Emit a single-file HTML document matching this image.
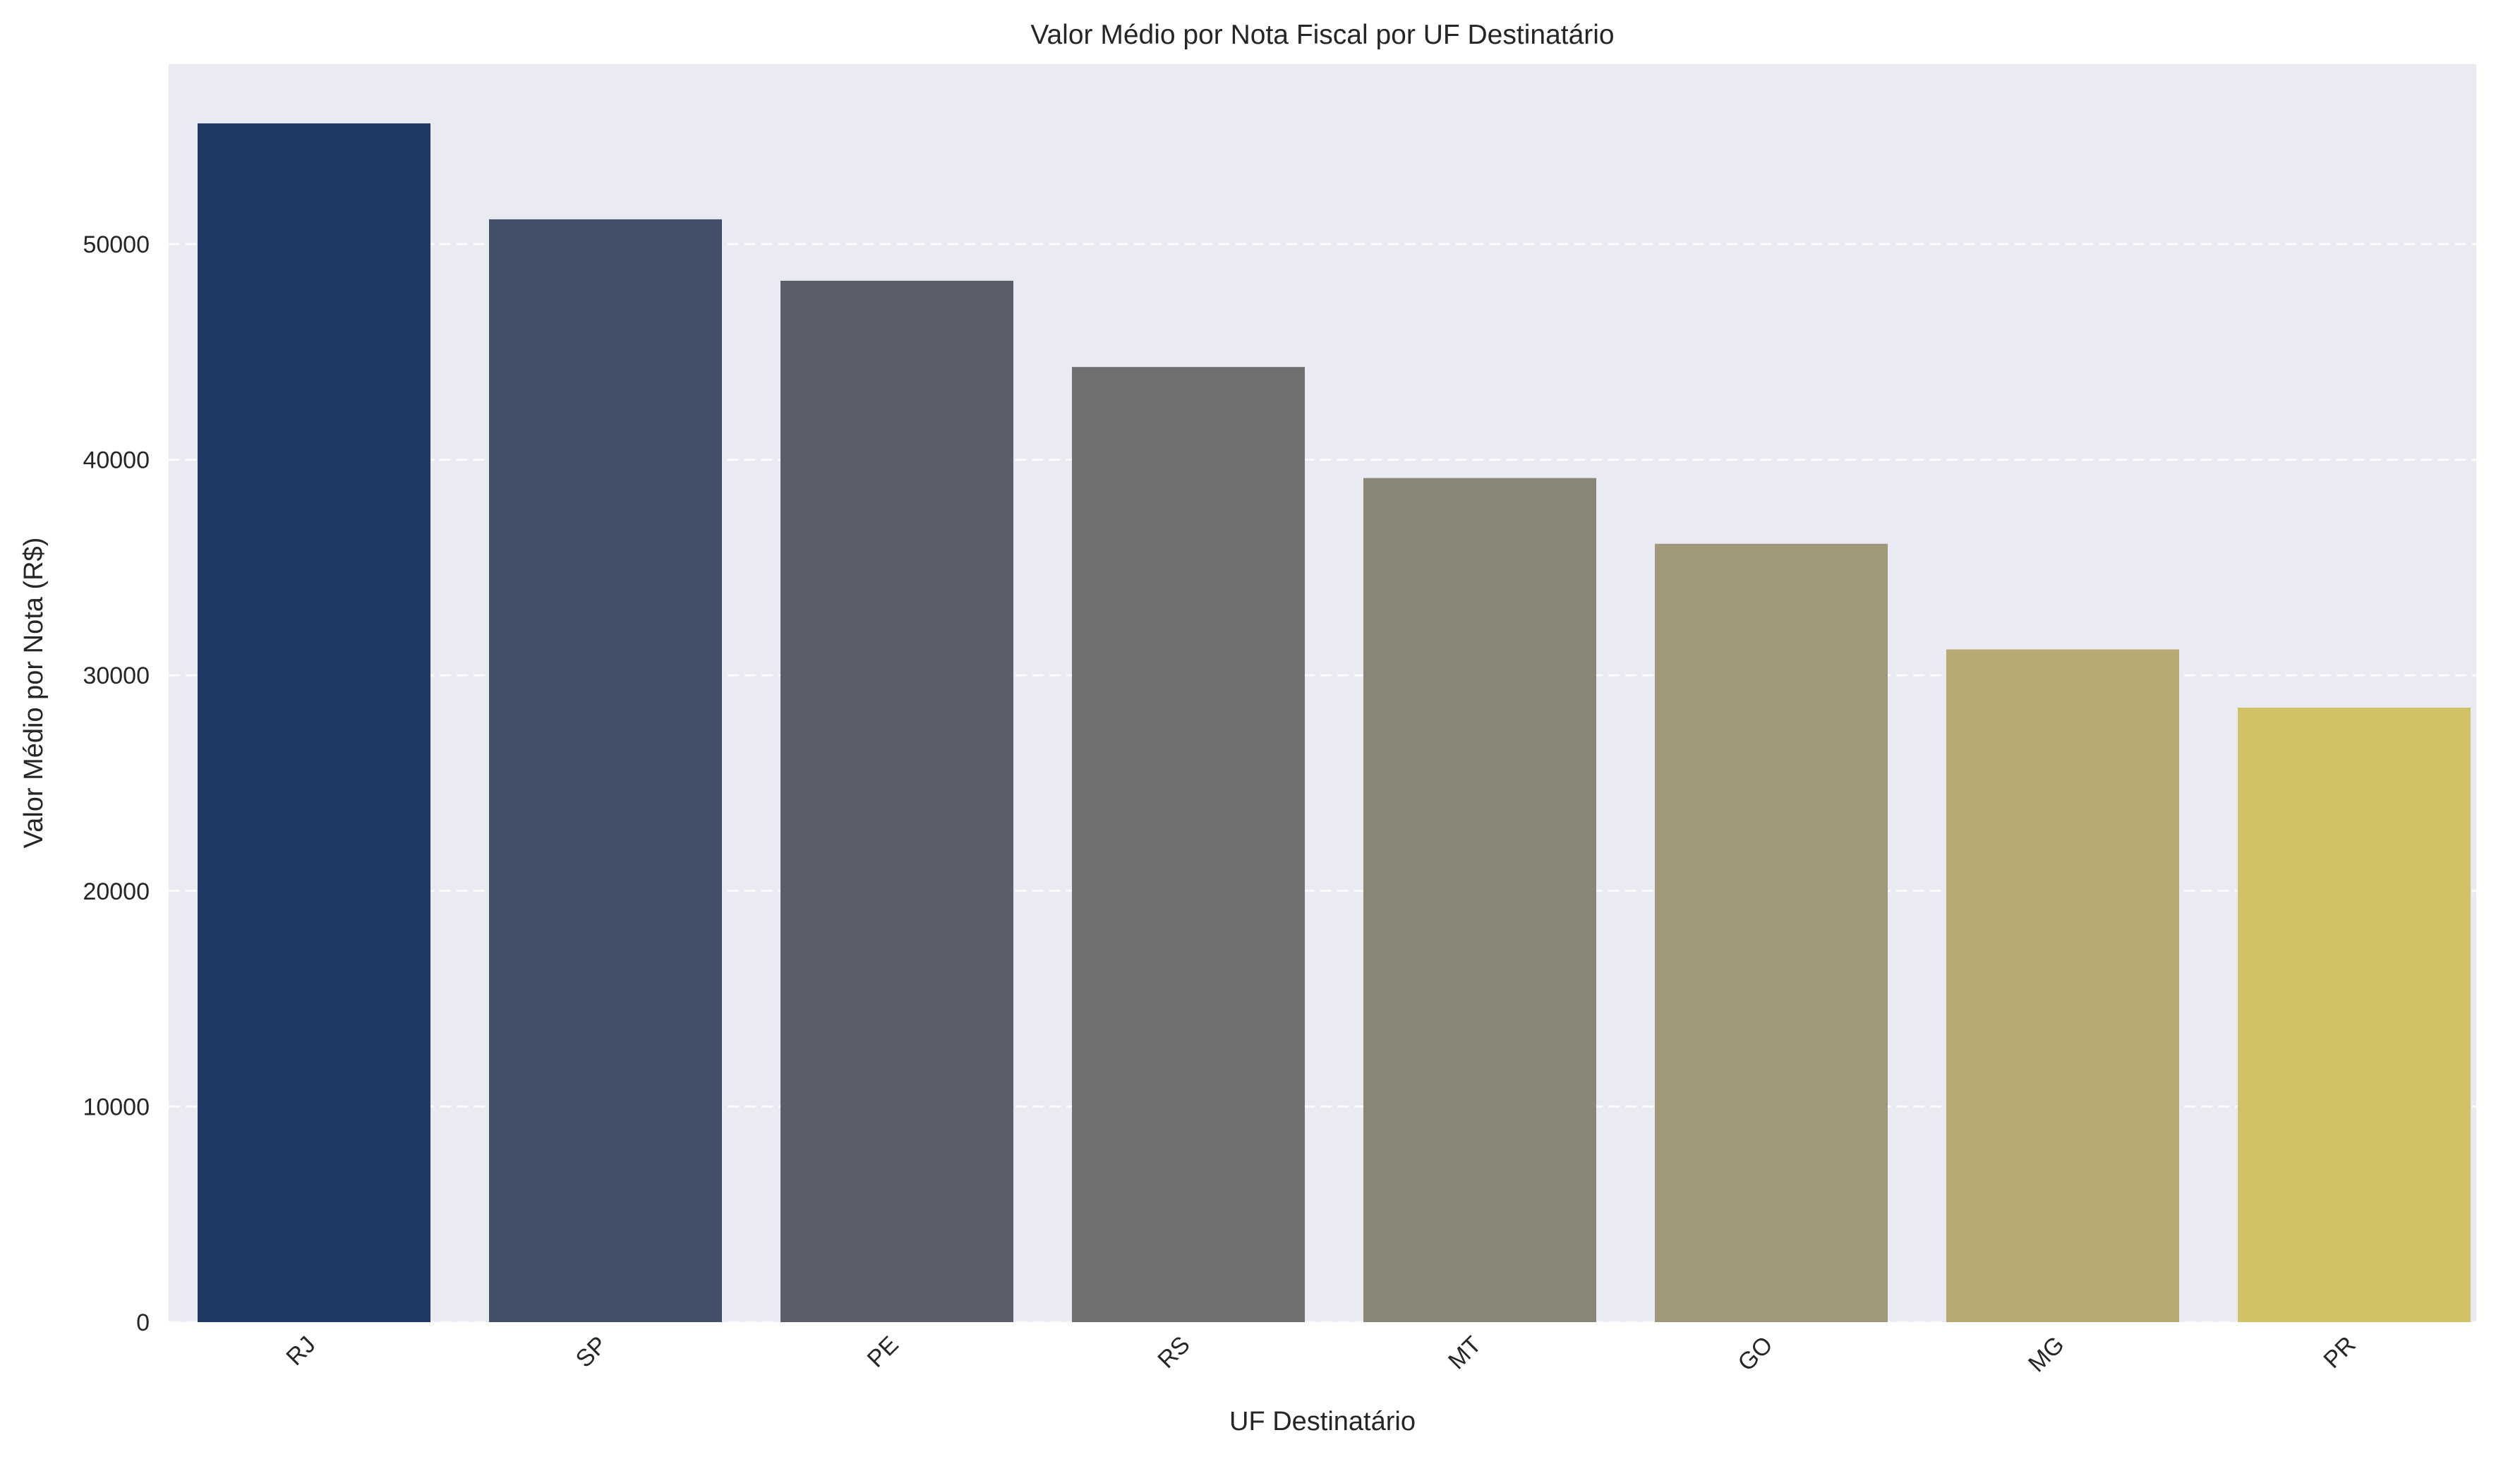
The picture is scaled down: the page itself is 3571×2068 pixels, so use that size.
<!DOCTYPE html>
<html><head><meta charset="utf-8"><style>
html,body{margin:0;padding:0;background:#fff;}
svg{display:block;font-family:"Liberation Sans",sans-serif;}
</style></head><body>
<svg id="chart" width="3571" height="2068" viewBox="0 0 3571 2068" xmlns="http://www.w3.org/2000/svg">
<rect x="0" y="0" width="3571" height="2068" fill="#ffffff"/>
<rect x="239" y="91" width="3270" height="1783" fill="#eaeaf2"/>
<g id="grid"></g>
<g id="bars"></g>
<g id="yticks"></g>
<g id="xticks"></g>
<text x="1874" y="62" text-anchor="middle" font-size="39" fill="#262626">Valor Médio por Nota Fiscal por UF Destinatário</text>
<text x="1874" y="2027" text-anchor="middle" font-size="38" fill="#262626">UF Destinatário</text>
<text x="0" y="0" transform="translate(60,982) rotate(-90)" text-anchor="middle" font-size="38" fill="#262626">Valor Médio por Nota (R$)</text>
</svg>
<script>
const categories = ["RJ","SP","PE","RS","MT","GO","MG","PR"];
const values = [55600, 51150, 48300, 44300, 39150, 36100, 31200, 28500];
const yTicks = [0, 10000, 20000, 30000, 40000, 50000];
const colors = ["#1f3864","#424f69","#5a5e6a","#707070","#898677","#a09878","#b8aa74","#d1c268"];

const NS = "http://www.w3.org/2000/svg";
const L = 239, R = 3509, T = 91, B = 1874, PX_PER_UNIT = 305.6 / 10000;
const y = v => B - v * PX_PER_UNIT;
const step = 413, barW = 330, firstCenter = 280 + 165;
const x = i => firstCenter + step * i;
function mk(tag, attrs, parent) {
  const e = document.createElementNS(NS, tag);
  for (const k in attrs) e.setAttribute(k, attrs[k]);
  parent.appendChild(e);
  return e;
}
const grid = document.getElementById("grid");
const yt = document.getElementById("yticks");
yTicks.forEach(t => {
  const ln = mk("line", {x1: L, x2: R, y1: y(t), y2: y(t), stroke: "#ffffff", "stroke-width": 3, "stroke-dasharray": "16,8", opacity: 0.85}, grid);
  
  
  const tx = mk("text", {x: 212, y: y(t) + 12, "text-anchor": "end", "font-size": 34, fill: "#262626"}, yt);
  tx.textContent = String(t);
  
  
});
const bars = document.getElementById("bars");
const xt = document.getElementById("xticks");
categories.forEach((c, i) => {
  const r = mk("rect", {x: x(i) - barW / 2, y: y(values[i]), width: barW, height: B - y(values[i]), fill: colors[i]}, bars);
  
  
  const tx = mk("text", {x: 0, y: 0, "text-anchor": "end", "font-size": 34, fill: "#262626", transform: `translate(${x(i) + 4},${B + 34}) rotate(-45)`}, xt);
  tx.textContent = c;
  
  
});
</script>
</body></html>
